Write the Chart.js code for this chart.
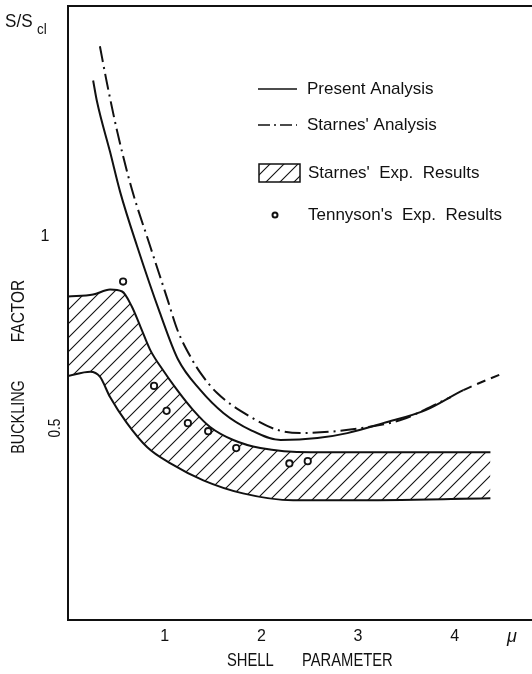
<!DOCTYPE html>
<html>
<head>
<meta charset="utf-8">
<script src="https://cdn.jsdelivr.net/npm/chart.js@4/dist/chart.umd.min.js"></script>
<style>
  html, body { margin: 0; padding: 0; background: #fff; }
  #wrap { width: 532px; height: 674px; }
</style>
</head>
<body>
<div id="wrap"><canvas id="myChart" width="532" height="674"></canvas></div>
<script>
// values (x = shell parameter mu, y = S/Scl)
const presentX = [0.26, 0.30, 0.435, 0.54, 0.715, 0.95, 1.14, 1.37, 1.61, 1.89, 2.2, 2.58, 2.89, 3.26, 3.7, 4.09, 4.51];
const presentY = [1.406, 1.351, 1.22, 1.115, 0.974, 0.801, 0.678, 0.599, 0.539, 0.495, 0.469, 0.474, 0.487, 0.513, 0.547, 0.599, 0.644];

const starnesX = [0.33, 0.40, 0.51, 0.66, 0.85, 1.03, 1.13, 1.285, 1.37, 1.54, 1.89, 2.17, 2.40, 3.03, 3.44, 3.96];
const starnesY = [1.495, 1.403, 1.272, 1.123, 0.974, 0.835, 0.757, 0.678, 0.644, 0.592, 0.529, 0.495, 0.487, 0.500, 0.521, 0.581];

const bandUpX = [0, 0.26, 0.435, 0.56, 0.66, 0.75, 0.85, 0.98, 1.13, 1.295, 1.47, 1.71, 1.99, 2.51, 3.44, 4.37];
const bandUpY = [0.843, 0.848, 0.861, 0.856, 0.817, 0.764, 0.704, 0.652, 0.599, 0.547, 0.503, 0.469, 0.448, 0.437, 0.437, 0.437];

const bandLoX = [0, 0.23, 0.33, 0.435, 0.61, 0.82, 1.06, 1.40, 1.81, 2.33, 2.92, 4.37];
const bandLoY = [0.636, 0.647, 0.634, 0.581, 0.513, 0.450, 0.408, 0.364, 0.330, 0.312, 0.312, 0.317];

const tennysonX = [0.57, 0.89, 1.02, 1.24, 1.45, 1.74, 2.29, 2.48];
const tennysonY = [0.882, 0.610, 0.545, 0.513, 0.492, 0.448, 0.408, 0.414];

const xTicks = [1, 2, 3, 4];
const yTicks = [0.5, 1];

const legendItems = ["Present Analysis", "Starnes' Analysis", "Starnes'  Exp.  Results", "Tennyson's  Exp.  Results"];

const pts = (xs, ys) => xs.map((x, i) => ({ x: x, y: ys[i] }));

// hatch pattern for the experimental band
function makeHatch() {
    const s = 14;
    const c = document.createElement("canvas");
    c.width = s; c.height = s;
    const g = c.getContext("2d");
    g.strokeStyle = "#111";
    g.lineWidth = 1.1;
    g.beginPath();
    g.moveTo(0, s); g.lineTo(s, 0);
    g.moveTo(-2, 2); g.lineTo(2, -2);
    g.moveTo(s - 2, s + 2); g.lineTo(s + 2, s - 2);
    g.stroke();
    return g.createPattern(c, "repeat");
}

const FONT = '"Liberation Sans", Arial, sans-serif';

function txt(ctx, s, x, y, size, opt = {}) {
    ctx.save();
    ctx.translate(x, y);
    if (opt.rot) ctx.rotate(opt.rot);
    ctx.scale(opt.sx || 1, 1);
    ctx.font = (opt.italic ? "italic " : "") + size + "px " + FONT;
    ctx.fillStyle = "#111";
    ctx.textAlign = opt.align || "left";
    ctx.textBaseline = "middle";
    ctx.fillText(s, 0, 0);
    ctx.restore();
}

document.addEventListener("DOMContentLoaded", () => {
    const ctx = document.getElementById("myChart").getContext("2d");
    const hatch = makeHatch();

    const annotations = {
        id: "annotations",
        afterDraw(chart) {
            const c = chart.ctx;
            const xs = chart.scales.x;
            const ys = chart.scales.y;

            // tick labels, placed by the scales
            xTicks.forEach(v => txt(c, String(v), xs.getPixelForValue(v), 637, 16, { align: "center" }));
            txt(c, "1", 45, ys.getPixelForValue(yTicks[1]), 16, { align: "center" });
            txt(c, "0.5", 56, ys.getPixelForValue(yTicks[0]), 16, { align: "center", rot: -Math.PI / 2, sx: 0.85 });

            // axis titles
            txt(c, "S/S", 5, 22, 19, { sx: 0.9 });
            txt(c, "cl", 37, 30, 15, { sx: 0.9 });
            txt(c, "BUCKLING", 19, 417, 18, { align: "center", rot: -Math.PI / 2, sx: 0.8 });
            txt(c, "FACTOR", 19, 311, 18, { align: "center", rot: -Math.PI / 2, sx: 0.86 });
            txt(c, "SHELL", 227, 661, 18, { sx: 0.82 });
            txt(c, "PARAMETER", 302, 661, 18, { sx: 0.82 });
            txt(c, "\u03bc", 512, 637, 18, { align: "center", italic: true });

            // legend
            c.save();
            c.strokeStyle = "#111";
            c.lineWidth = 1.5;
            c.beginPath(); c.moveTo(258, 89); c.lineTo(297, 89); c.stroke();
            c.setLineDash([12, 4, 2, 4]);
            c.beginPath(); c.moveTo(258, 125); c.lineTo(297, 125); c.stroke();
            c.setLineDash([]);
            c.fillStyle = hatch;
            c.fillRect(259, 164, 41, 18);
            c.strokeRect(259, 164, 41, 18);
            c.fillStyle = "#fff";
            c.lineWidth = 2;
            c.beginPath(); c.arc(275, 215, 2.5, 0, Math.PI * 2); c.fill(); c.stroke();
            c.restore();
            txt(c, legendItems[0], 307, 89, 17);
            txt(c, legendItems[1], 307, 125, 17);
            txt(c, legendItems[2], 308, 173, 17);
            txt(c, legendItems[3], 308, 215, 17);
        }
    };

    const lineBase = {
        showLine: true,
        pointRadius: 0,
        borderColor: "#111",
        borderWidth: 2,
        cubicInterpolationMode: "monotone",
        fill: false
    };

    const noGrid = { display: false, drawTicks: false, tickLength: 0 };

    new Chart(ctx, {
        type: "scatter",
        data: {
            datasets: [
                { ...lineBase, label: "band lower", data: pts(bandLoX, bandLoY), order: 3 },
                { ...lineBase, label: "Starnes' Exp. Results", data: pts(bandUpX, bandUpY), fill: "-1", backgroundColor: hatch, order: 3 },
                {
                    ...lineBase, label: "Present Analysis", data: pts(presentX, presentY), order: 2,
                    segment: { borderDash: s => s.p0.parsed.x >= 4.0 ? [9, 6] : undefined }
                },
                { ...lineBase, label: "Starnes' Analysis", data: pts(starnesX, starnesY), borderDash: [16, 5, 2, 5], order: 2 },
                {
                    label: "Tennyson's Exp. Results", data: pts(tennysonX, tennysonY), showLine: false,
                    pointRadius: 3.2, pointBorderWidth: 1.8, pointBorderColor: "#111", pointBackgroundColor: "#fff", order: 0
                }
            ]
        },
        options: {
            responsive: false,
            animation: false,
            events: [],
            layout: { autoPadding: false, padding: { left: 68, right: 0, top: 6, bottom: 54 } },
            plugins: { legend: { display: false }, tooltip: { enabled: false } },
            scales: {
                x: {
                    type: "linear", position: "bottom", min: 0, max: 4.8,
                    border: { color: "#111", width: 2 },
                    grid: noGrid,
                    ticks: { display: false }
                },
                xTop: {
                    type: "linear", position: "top", min: 0, max: 4.8,
                    border: { color: "#111", width: 2 },
                    grid: noGrid,
                    ticks: { display: false }
                },
                y: {
                    min: 0, max: 1.6,
                    border: { color: "#111", width: 2 },
                    grid: noGrid,
                    ticks: { display: false }
                }
            }
        },
        plugins: [annotations]
    });
});
</script>
</body>
</html>
